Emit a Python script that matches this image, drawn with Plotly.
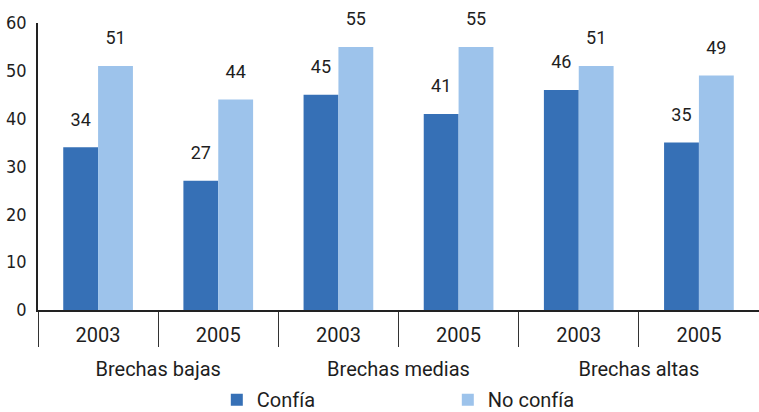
import plotly.graph_objects as go

groups = ["Brechas bajas", "Brechas bajas", "Brechas medias", "Brechas medias", "Brechas altas", "Brechas altas"]
years = ["2003", "2005", "2003", "2005", "2003", "2005"]
confia = [34, 27, 45, 41, 46, 35]
no_confia = [51, 44, 55, 55, 51, 49]
y_ticks = [0, 10, 20, 30, 40, 50, 60]

dark = "#3670b6"
light = "#9dc3eb"
ink = "#1e1e1e"
font_main = "Roboto, Open Sans, sans-serif"
font_cond = "DejaVu Sans Condensed, Liberation Sans Narrow, Roboto, sans-serif"

x = [groups, years]
n = len(years)
xrange = [-0.5, n - 0.5]

# positions of year labels and group labels, derived from the category order
year_pos = list(range(n))
group_names = []
group_pos = []
for g in dict.fromkeys(groups):
    idx = [i for i, v in enumerate(groups) if v == g]
    group_names.append(g)
    group_pos.append(sum(idx) / len(idx))

fig = go.Figure()
for name, vals, col in [("Confía", confia, dark), ("No confía", no_confia, light)]:
    fig.add_trace(go.Bar(x=x, y=vals, name=name, offsetgroup=name,
                         marker=dict(color=col, line=dict(width=0))))
# value labels, grouped like the bars, pushed up by an invisible marker
for name, vals in [("Confía", confia), ("No confía", no_confia)]:
    fig.add_trace(go.Scatter(x=x, y=vals, offsetgroup=name, mode="markers+text", text=vals,
                             textposition="top center", showlegend=False, hoverinfo="skip",
                             marker=dict(size=26, opacity=0),
                             textfont=dict(family=font_main, size=18, color=ink), cliponaxis=False))

fig.update_layout(
    width=759, height=412,
    margin=dict(l=38, r=0, t=23, b=102, autoexpand=False),
    paper_bgcolor="white", plot_bgcolor="white",
    barmode="group", bargap=0.42, bargroupgap=0,
    scattermode="group", scattergap=0.42,
    font=dict(family=font_main, size=20, color=ink),
    xaxis=dict(type="multicategory", range=xrange, showline=True, linecolor="#222", linewidth=1.5,
               ticks="outside", tickson="boundaries", ticklen=35, tickcolor="#333", tickwidth=1.2,
               showticklabels=False, showdividers=False, showgrid=False, zeroline=False,
               automargin=False),
    # year labels
    xaxis2=dict(overlaying="x", anchor="y", side="bottom", type="linear", range=xrange,
                tickvals=year_pos, ticktext=years, ticks="outside", ticklen=7,
                tickcolor="rgba(0,0,0,0)", showline=False, showgrid=False, zeroline=False,
                tickfont=dict(family=font_main, size=20, color=ink), automargin=False),
    # group labels
    xaxis3=dict(overlaying="x", anchor="y", side="bottom", type="linear", range=xrange,
                tickvals=group_pos, ticktext=group_names, ticks="outside", ticklen=41,
                tickcolor="rgba(0,0,0,0)", showline=False, showgrid=False, zeroline=False,
                tickfont=dict(family=font_main, size=20, color=ink), automargin=False),
    yaxis=dict(range=[0, 60], tickvals=y_ticks, showline=True, linecolor="#222", linewidth=1.5,
               ticks="", ticklabelstandoff=6, showgrid=False, zeroline=False, automargin=False,
               tickfont=dict(family=font_cond, size=18, color=ink)),
    legend=dict(orientation="h", x=0.248, xanchor="left", yref="container", y=0.03, yanchor="middle",
                entrywidth=186, entrywidthmode="pixels", itemwidth=30,
                font=dict(family=font_main, size=20, color=ink)),
)

# invisible carriers so the label axes are drawn
fig.add_trace(go.Scatter(x=year_pos, y=[None] * n, xaxis="x2", showlegend=False, hoverinfo="skip"))
fig.add_trace(go.Scatter(x=group_pos, y=[None] * len(group_pos), xaxis="x3", showlegend=False, hoverinfo="skip"))

fig.write_html("out.html", config={"displayModeBar": False},
               post_script="document.body.style.margin='0';")
